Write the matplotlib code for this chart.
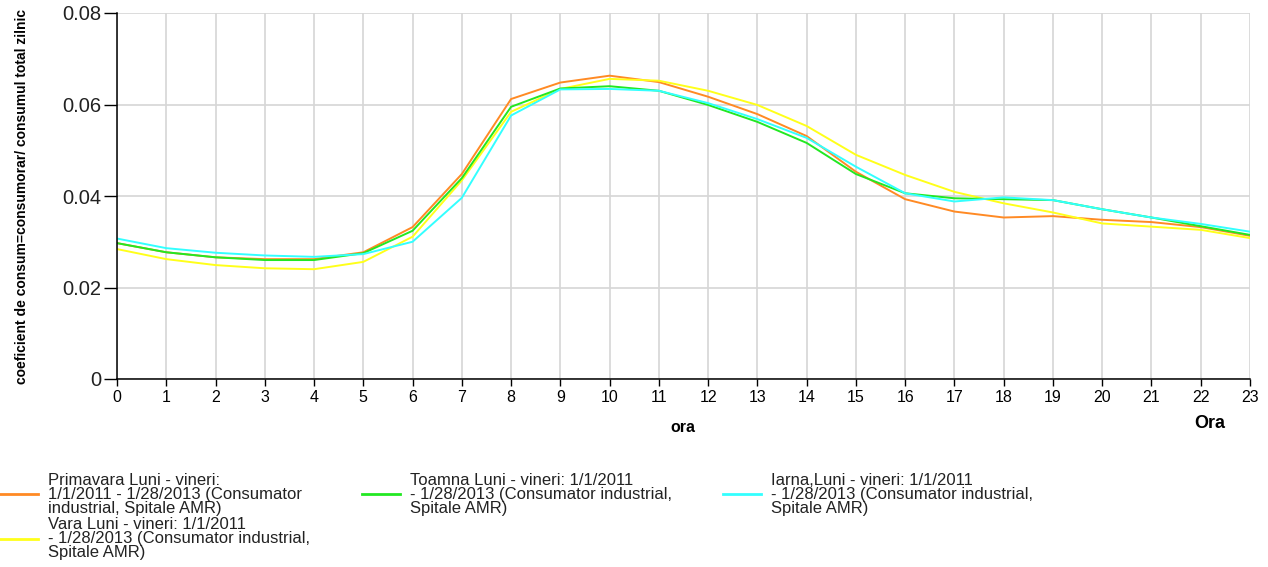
import matplotlib
matplotlib.use("Agg")
import matplotlib.pyplot as plt

hours = list(range(24))
primavara = [0.0297, 0.0277, 0.0266, 0.0262, 0.0262, 0.0277, 0.0332, 0.0448, 0.0612, 0.0648,
             0.0663, 0.0649, 0.0617, 0.0579, 0.0531, 0.0453, 0.0393, 0.0366, 0.0353, 0.0356,
             0.0348, 0.0343, 0.0332, 0.0313]
vara = [0.0284, 0.0262, 0.0249, 0.0242, 0.0240, 0.0256, 0.0311, 0.0434, 0.0584, 0.0634,
        0.0656, 0.0652, 0.0630, 0.0599, 0.0553, 0.0490, 0.0446, 0.0409, 0.0384, 0.0364,
        0.0340, 0.0333, 0.0326, 0.0308]
toamna = [0.0297, 0.0277, 0.0266, 0.0260, 0.0260, 0.0275, 0.0324, 0.0439, 0.0595, 0.0635,
          0.0640, 0.0630, 0.0599, 0.0562, 0.0516, 0.0448, 0.0406, 0.0395, 0.0393, 0.0391,
          0.0371, 0.0353, 0.0334, 0.0315]
iarna = [0.0307, 0.0286, 0.0276, 0.0270, 0.0267, 0.0273, 0.0300, 0.0396, 0.0576, 0.0633,
         0.0634, 0.0630, 0.0603, 0.0568, 0.0527, 0.0464, 0.0406, 0.0388, 0.0397, 0.0391,
         0.0371, 0.0353, 0.0339, 0.0322]

labels = [
    "Primavara Luni - vineri:\n1/1/2011 - 1/28/2013 (Consumator\nindustrial, Spitale AMR)",
    "Vara Luni - vineri: 1/1/2011\n- 1/28/2013 (Consumator industrial,\nSpitale AMR)",
    "Toamna Luni - vineri: 1/1/2011\n- 1/28/2013 (Consumator industrial,\nSpitale AMR)",
    "Iarna,Luni - vineri: 1/1/2011\n- 1/28/2013 (Consumator industrial,\nSpitale AMR)",
]
colors = ["#ff8a24", "#ffff1a", "#22e822", "#33ffff"]
series = [primavara, vara, toamna, iarna]

yticks = [0, 0.02, 0.04, 0.06, 0.08]
yticklabels = ["0", "0.02", "0.04", "0.06", "0.08"]

plt.rcParams['font.family'] = ['Liberation Sans', 'DejaVu Sans']

fig = plt.figure(figsize=(12.68, 5.67), dpi=100)
ax = fig.add_axes([117/1268, 1-379/567, (1250-117)/1268, (379-13)/567])

for s, c, l in zip(series, colors, labels):
    ax.plot(hours, s, color=c, lw=1.4, label=l)

ax.set_xlim(0, 23)
ax.set_ylim(0, 0.08)
ax.set_xticks(hours)
ax.set_xticklabels([str(h) for h in hours], fontsize=11.5)
ax.set_yticks(yticks)
ax.set_yticklabels(yticklabels, fontsize=14.5, color="#222222")
ax.grid(True, color="#d6d6d6", lw=1.2)
ax.set_axisbelow(True)
for sp in ["top", "right"]:
    ax.spines[sp].set_visible(False)
for sp in ["left", "bottom"]:
    ax.spines[sp].set_color("black")
    ax.spines[sp].set_linewidth(1.1)
ax.tick_params(axis="x", length=5, width=1, pad=3)
ax.tick_params(axis="y", length=9.5, width=1, pad=2)

fig.text(22/1268, 1-197/567, "coeficient de consum=consumorar/ consumul total zilnic",
         rotation=90, ha="center", va="center", fontsize=10, fontweight="bold",
         family=['Liberation Sans Narrow', 'Liberation Sans', 'DejaVu Sans'])
fig.text(683/1268, 1-428/567, "ora", ha="center", va="center", fontsize=11.5, fontweight="bold")
fig.text(1210/1268, 1-424/567, "Ora", ha="center", va="center", fontsize=13, fontweight="bold")

leg = ax.legend(loc="upper left", bbox_to_anchor=(-117/1133, -(473-379)/366), ncol=3,
                frameon=False, fontsize=12, handlelength=2.28, handletextpad=0.6,
                columnspacing=3.1, labelspacing=0.1, borderaxespad=0, borderpad=0)
for line in leg.get_lines():
    line.set_linewidth(2)
for t in leg.get_texts():
    t.set_linespacing(0.9)
    t.set_color("#222222")

fig.savefig("out.png", dpi=100)
